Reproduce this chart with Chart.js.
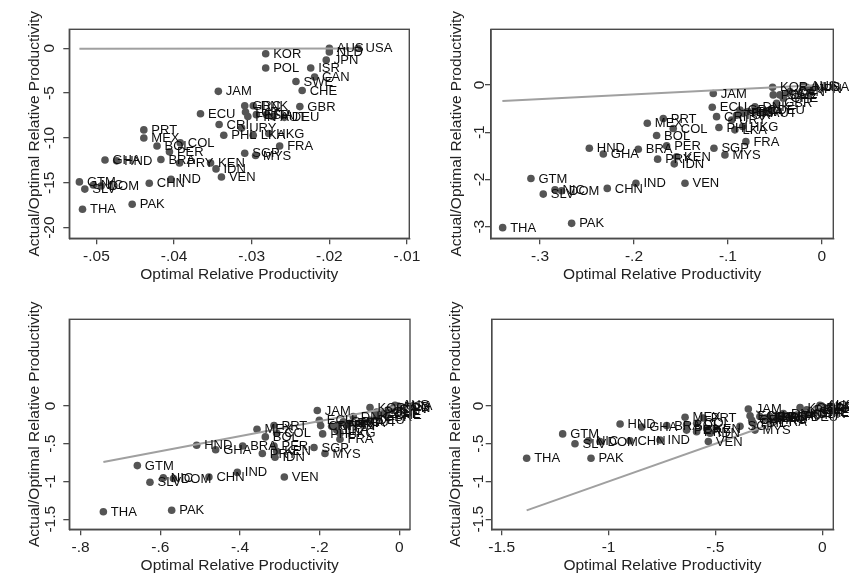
<!DOCTYPE html>
<html>
<head>
<meta charset="utf-8">
<script src="https://cdn.jsdelivr.net/npm/chart.js@4.4.1/dist/chart.umd.min.js"></script>
<style>
  html, body { margin: 0; padding: 0; background: #fff; }
  #wrap { position: relative; width: 849px; height: 578px; overflow: hidden; }
  canvas { position: absolute; }
</style>
</head>
<body>
<div id="wrap">
  <canvas id="c1" width="420" height="290" style="left:0;top:0"></canvas>
  <canvas id="c2" width="429" height="290" style="left:420px;top:0"></canvas>
  <canvas id="c3" width="440" height="288" style="left:0;top:290px"></canvas>
  <canvas id="c4" width="429" height="288" style="left:420px;top:290px"></canvas>
</div>
<script>
// country codes, same order in every panel
const countries = ["USA","AUS","NLD","JPN","KOR","POL","ISR","CAN","SWE","CHE","GBR","JAM","ECU","GRC","DNK","TUR","ESP","ITA","AUT","FIN","DEU","CRI","URY","PHL","LKA","HKG","FRA","SGP","MYS","VEN","IDN","KEN","PRY","BRA","PER","BOL","COL","MEX","PRT","HND","GHA","GTM","SLV","NIC","DOM","CHN","IND","THA","PAK"];

// panel 1 (top left)
const p1X = [-.0163,-.0200,-.0200,-.0204,-.0282,-.0282,-.0224,-.0219,-.0243,-.0235,-.0238,-.0343,-.0366,-.0309,-.0298,-.0308,-.0294,-.0281,-.0273,-.0305,-.0258,-.0342,-.0313,-.0336,-.0298,-.0278,-.0264,-.0309,-.0295,-.0339,-.0346,-.0353,-.0393,-.0417,-.0406,-.0422,-.0392,-.0439,-.0439,-.0474,-.0489,-.0522,-.0515,-.0504,-.0494,-.0432,-.0404,-.0518,-.0454];
const p1Y = [0,0,-0.4,-1.3,-0.6,-2.2,-2.2,-3.2,-3.7,-4.7,-6.5,-4.8,-7.3,-6.4,-6.4,-7.1,-7.4,-7.4,-7.6,-7.6,-7.7,-8.5,-8.9,-9.7,-9.7,-9.5,-10.9,-11.7,-11.95,-14.35,-13.45,-12.8,-12.8,-12.4,-11.55,-10.9,-10.55,-10.0,-9.1,-12.55,-12.45,-14.9,-15.7,-15.25,-15.35,-15.05,-14.6,-17.95,-17.4];
const p1Line = [-.0522, -.0163];
const p1XTicks = [-.05, -.04, -.03, -.02, -.01];
const p1YTicks = [0, -5, -10, -15, -20];

// panel 2 (top right)
const p2X = [-.0074,-.0199,-.0163,-.0128,-.0525,-.0518,-.0376,-.034,-.0447,-.0411,-.0482,-.1156,-.1167,-.0872,-.0713,-.0908,-.0784,-.0695,-.0624,-.0837,-.0553,-.1121,-.0961,-.1096,-.0926,-.0844,-.0809,-.1149,-.1032,-.1457,-.1571,-.1546,-.1748,-.1954,-.1652,-.1759,-.1582,-.1858,-.1688,-.2475,-.2326,-.3096,-.2965,-.284,-.277,-.2284,-.1979,-.3397,-.2663];
const p2Y = [-.05,-.02,-.05,-.09,-.05,-.21,-.18,-.14,-.21,-.28,-.39,-.18,-.47,-.53,-.46,-.64,-.56,-.56,-.59,-.60,-.53,-.67,-.74,-.90,-.95,-.88,-1.20,-1.34,-1.48,-2.08,-1.67,-1.52,-1.57,-1.36,-1.29,-1.07,-.92,-.81,-.71,-1.34,-1.46,-1.98,-2.31,-2.22,-2.24,-2.19,-2.08,-3.02,-2.93];
const p2Line = [-.340, -.007];
const p2XTicks = [-.3, -.2, -.1, 0];
const p2YTicks = [0, -1, -2, -3];

// panel 3 (bottom left)
const p3X = [-.003,-.0109,-.0067,-.0025,-.0736,-.0569,-.0276,-.0192,-.0402,-.0318,-.0569,-.2059,-.2008,-.1406,-.1155,-.1531,-.1239,-.103,-.0904,-.1322,-.0736,-.1975,-.1699,-.1925,-.157,-.149,-.149,-.2142,-.1866,-.2887,-.3121,-.3079,-.3439,-.3933,-.3146,-.3364,-.3079,-.3573,-.3146,-.5088,-.4611,-.6577,-.626,-.5925,-.567,-.478,-.4067,-.743,-.5715];
const p3Y = [0,.01,-.01,-.03,-.02,-.08,-.05,-.04,-.10,-.12,-.14,-.06,-.19,-.21,-.14,-.25,-.23,-.23,-.21,-.25,-.19,-.26,-.27,-.37,-.32,-.36,-.44,-.55,-.63,-.94,-.68,-.60,-.63,-.53,-.53,-.41,-.36,-.31,-.26,-.52,-.58,-.79,-1.01,-.95,-.96,-.94,-.88,-1.40,-1.38];
const p3Line = [-.743, 0];
const p3XTicks = [-.8, -.6, -.4, -.2, 0];
const p3YTicks = [0, -.5, -1, -1.5];

// panel 4 (bottom right)
const p4X = [-.002,-.011,-.006,-.004,-.104,-.073,-.027,-.019,-.05,-.034,-.058,-.346,-.338,-.245,-.182,-.268,-.198,-.151,-.12,-.221,-.089,-.33,-.292,-.323,-.26,-.237,-.229,-.385,-.315,-.533,-.525,-.541,-.588,-.728,-.635,-.635,-.588,-.642,-.557,-.946,-.845,-1.2146,-1.157,-1.094,-1.04,-.90,-.759,-1.383,-1.082];
const p4Y = [0,.01,-.01,-.02,-.02,-.05,-.04,-.03,-.08,-.09,-.11,-.04,-.13,-.14,-.10,-.16,-.15,-.13,-.12,-.16,-.14,-.19,-.14,-.23,-.16,-.19,-.21,-.27,-.32,-.47,-.36,-.30,-.34,-.26,-.32,-.25,-.23,-.15,-.16,-.24,-.28,-.37,-.50,-.46,-.47,-.46,-.45,-.693,-.693];
const p4Line = [-1.383, 0];
const p4XTicks = [-1.5, -1, -.5, 0];
const p4YTicks = [0, -.5, -1, -1.5];

const FONT = '"Liberation Sans", Arial, Helvetica, sans-serif';
const TEXT = '#222';
const AXIS = '#4a4a4a';

// Stata style numbers: -.05 instead of -0.05
function fmt(v) {
    const s = String(Math.abs(v)).replace(/^0(?=\.)/, '');
    return (v < 0 ? '-' : '') + s;
}

// labels next to the dots, plot frame and rotated y tick labels
const extras = {
    id: 'extras',
    afterDatasetsDraw(chart, args, opts) {
        const ctx = chart.ctx;
        const meta = chart.getDatasetMeta(1);
        ctx.save();
        ctx.font = '13px ' + FONT;
        ctx.fillStyle = '#0d0d0d';
        ctx.textAlign = 'left';
        ctx.textBaseline = 'middle';
        meta.data.forEach((pt, i) => ctx.fillText(countries[i], pt.x + 7.5, pt.y + 0.5));

        const a = chart.chartArea;
        ctx.strokeStyle = AXIS;
        ctx.lineWidth = 1.4;
        ctx.strokeRect(a.left, a.top, a.right - a.left, a.bottom - a.top);

        const ys = chart.scales.y;
        ctx.font = '15.5px ' + FONT;
        ctx.fillStyle = TEXT;
        ctx.textAlign = 'center';
        ctx.textBaseline = 'alphabetic';
        ys.ticks.forEach(t => {
            ctx.save();
            ctx.translate(opts.labelX, ys.getPixelForValue(t.value));
            ctx.rotate(-Math.PI / 2);
            ctx.fillText(fmt(t.value), 0, 0);
            ctx.restore();
        });
        ctx.restore();
    }
};

function makePanel(id, xs, ys, line, xTicks, yTicks, box) {
    const el = document.getElementById(id);
    const W = el.width, H = el.height;
    new Chart(el, {
        data: {
            datasets: [
                {
                    type: 'line',
                    data: line.map(v => ({ x: v, y: v })),
                    borderColor: '#a0a0a0',
                    borderWidth: 2,
                    pointRadius: 0,
                    fill: false
                },
                {
                    type: 'scatter',
                    data: xs.map((x, i) => ({ x: x, y: ys[i] })),
                    backgroundColor: '#555555',
                    borderWidth: 0,
                    pointRadius: 3.8
                }
            ]
        },
        options: {
            responsive: false,
            animation: false,
            layout: { padding: { left: 0, top: box.top, right: W - box.right, bottom: 0 } },
            plugins: {
                legend: { display: false },
                tooltip: { enabled: false },
                extras: { labelX: box.labelX }
            },
            scales: {
                x: {
                    type: 'linear',
                    min: box.xMin, max: box.xMax,
                    afterBuildTicks: s => { s.ticks = xTicks.map(v => ({ value: v })); },
                    afterFit: s => { s.height = H - box.bottom; s.paddingLeft = 0; s.paddingRight = 0; },
                    grid: { display: true, drawOnChartArea: false, drawTicks: true, tickLength: 6, color: AXIS, lineWidth: 1.3 },
                    border: { display: true, color: AXIS, width: 1.4 },
                    ticks: { padding: 3, color: TEXT, font: { size: 15.5, family: FONT }, maxRotation: 0, autoSkip: false, callback: v => fmt(v) },
                    title: { display: true, text: 'Optimal Relative Productivity', color: TEXT, font: { size: 15.5, family: FONT }, padding: { top: 0, bottom: box.titleB } }
                },
                y: {
                    type: 'linear',
                    min: box.yMin, max: box.yMax,
                    afterBuildTicks: s => { s.ticks = yTicks.map(v => ({ value: v })); },
                    afterFit: s => { s.width = box.left; s.paddingTop = 0; s.paddingBottom = 0; },
                    grid: { display: true, drawOnChartArea: false, drawTicks: true, tickLength: 6, color: AXIS, lineWidth: 1.3 },
                    border: { display: true, color: AXIS, width: 1.4 },
                    ticks: { display: false },
                    title: { display: true, text: 'Actual/Optimal Relative Productivity', color: TEXT, font: { size: 15.5, family: FONT }, padding: { top: box.titleT, bottom: 0 } }
                }
            }
        },
        plugins: [extras]
    });
}

makePanel('c1', p1X, p1Y, p1Line, p1XTicks, p1YTicks,
    { left: 69.3, right: 409.3, top: 29.3, bottom: 238.3, xMin: -.0535, xMax: -.0097, yMin: -21.19, yMax: 2.12, labelX: 53.5, titleB: 5.7, titleT: 25.7 });
makePanel('c2', p2X, p2Y, p2Line, p2XTicks, p2YTicks,
    { left: 71, right: 413.3, top: 29.3, bottom: 238.3, xMin: -.3521, xMax: .0121, yMin: -3.246, yMax: 1.179, labelX: 63.8, titleB: 5.7, titleT: 27.4 });
makePanel('c3', p3X, p3Y, p3Line, p3XTicks, p3YTicks,
    { left: 69.3, right: 410, top: 29.3, bottom: 239.3, xMin: -.8285, xMax: .0268, yMin: -1.633, yMax: 1.147, labelX: 55, titleB: 2.7, titleT: 25.7 });
makePanel('c4', p4X, p4Y, p4Line, p4XTicks, p4YTicks,
    { left: 71.7, right: 413.3, top: 29.3, bottom: 239.3, xMin: -1.5466, xMax: .0515, yMin: -1.633, yMax: 1.147, labelX: 63, titleB: 2.7, titleT: 26.7 });
</script>
</body>
</html>
